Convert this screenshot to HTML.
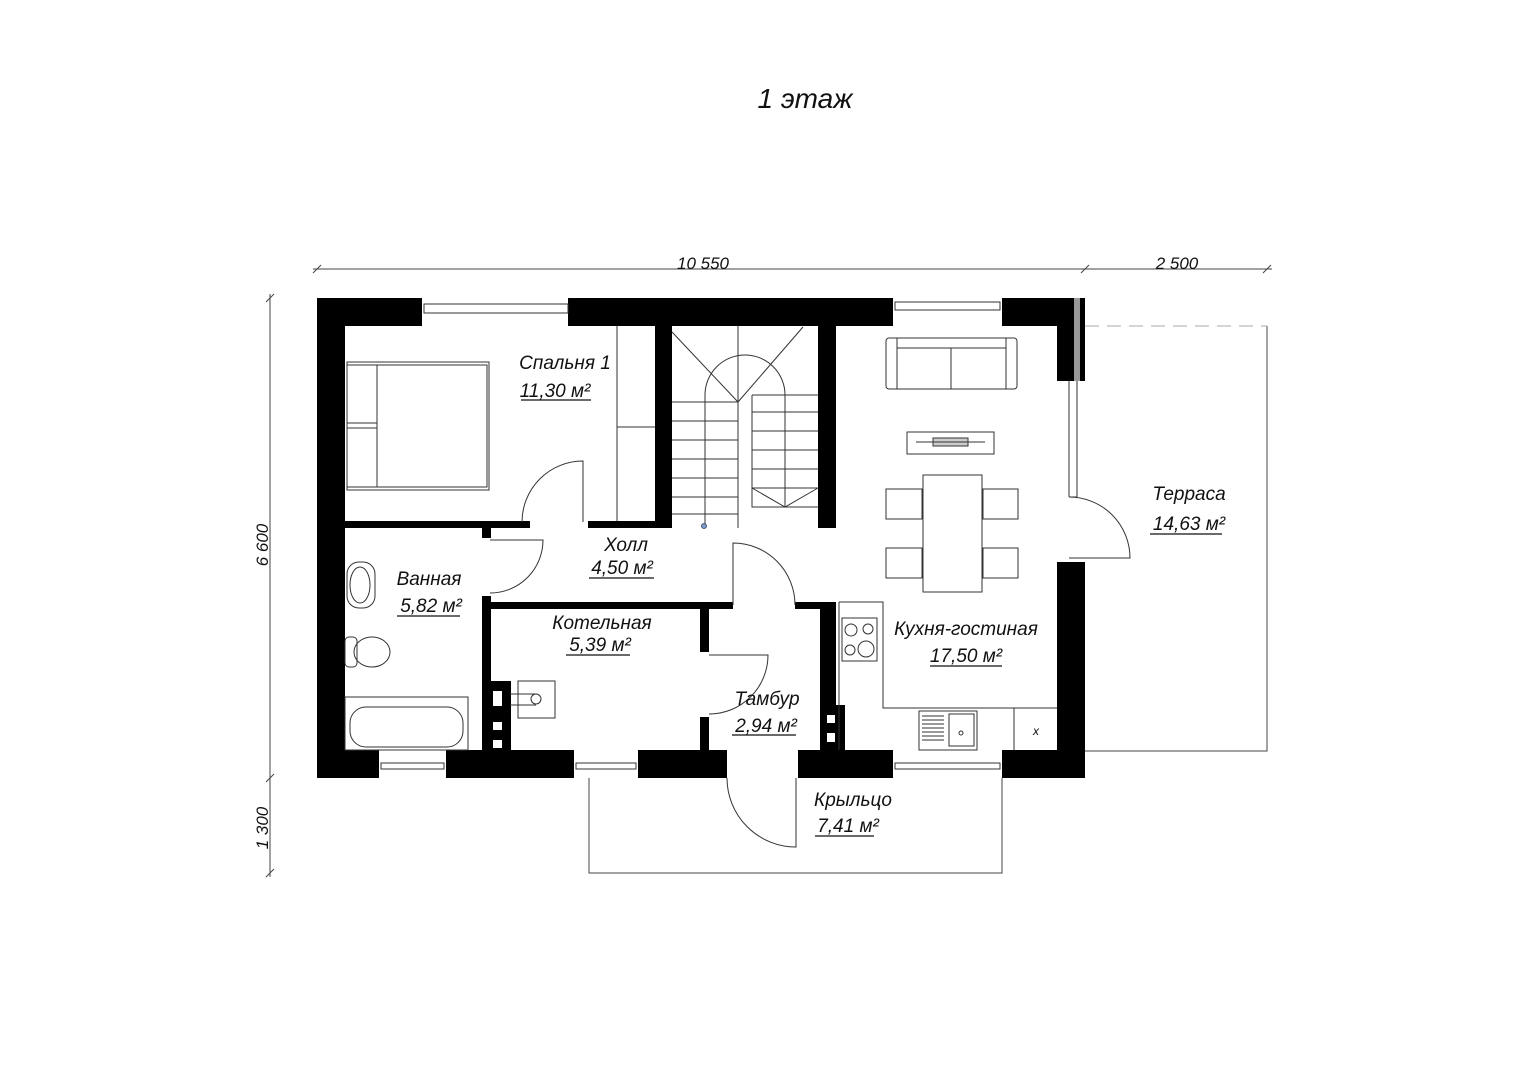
<!DOCTYPE html>
<html><head><meta charset="utf-8"><style>
html,body{margin:0;padding:0;background:#fff;}
svg{display:block;}
text{font-family:"Liberation Sans","DejaVu Sans",sans-serif;font-style:italic;fill:#111;}
</style></head><body>
<svg width="1528" height="1080" viewBox="0 0 1528 1080" xmlns="http://www.w3.org/2000/svg">
<g fill="none" stroke="#444" stroke-width="1">
<line x1="313" y1="269" x2="1272" y2="269"/>
<line x1="313" y1="273" x2="321" y2="265"/><line x1="1081" y1="273" x2="1089" y2="265"/><line x1="1263" y1="273" x2="1271" y2="265"/>
<line x1="270" y1="294" x2="270" y2="877"/>
<line x1="266" y1="302" x2="274" y2="294"/><line x1="266" y1="782" x2="274" y2="774"/><line x1="266" y1="877" x2="274" y2="869"/>
<polyline points="1085,751 1267,751 1267,326"/>
<line x1="1085" y1="326" x2="1267" y2="326" stroke="#aaa" stroke-dasharray="14,8"/>
<polyline points="589,778 589,873 1002,873 1002,778"/>
</g>
<g fill="#000">
<rect x="317" y="298" width="28" height="480"/>
<rect x="317" y="298" width="105" height="28"/>
<rect x="568" y="298" width="325" height="28"/>
<rect x="1002" y="298" width="83" height="28"/>
<rect x="1057" y="298" width="28" height="83"/>
<rect x="1057" y="562" width="28" height="216"/>
<rect x="317" y="750" width="62" height="28"/>
<rect x="446" y="750" width="128" height="28"/>
<rect x="638" y="750" width="89" height="28"/>
<rect x="798" y="750" width="95" height="28"/>
<rect x="1002" y="750" width="83" height="28"/>
<rect x="345" y="521" width="185" height="7"/>
<rect x="588" y="521" width="84" height="7"/>
<rect x="655" y="326" width="17" height="202"/>
<rect x="818" y="326" width="18" height="202"/>
<rect x="482" y="528" width="9" height="10"/>
<rect x="482" y="596" width="9" height="154"/>
<rect x="482" y="602" width="251" height="7"/>
<rect x="700" y="602" width="9" height="50"/>
<rect x="700" y="717" width="9" height="33"/>
<rect x="795" y="602" width="41" height="7"/>
<rect x="820" y="602" width="16" height="148"/>
<rect x="482" y="681" width="29" height="69"/>
<rect x="820" y="705" width="25" height="45"/>
</g>
<g fill="#fff">
<rect x="493" y="691" width="9" height="15"/><rect x="493" y="722" width="9" height="8"/><rect x="493" y="740" width="9" height="8"/>
<rect x="827" y="715" width="8" height="8"/><rect x="827" y="733" width="8" height="9"/>
</g>
<rect x="1074" y="298" width="6" height="83" fill="#999"/>
<g fill="none" stroke="#333" stroke-width="1">
<rect x="424" y="304" width="144" height="9"/><rect x="895" y="302" width="105" height="8"/>
<rect x="381" y="763" width="63" height="6"/><rect x="576" y="763" width="60" height="6"/><rect x="895" y="763" width="105" height="6"/>
<line x1="1069" y1="381" x2="1069" y2="497"/><line x1="1077" y1="381" x2="1077" y2="497"/><line x1="1069" y1="497" x2="1077" y2="497"/>
<path d="M583,522 V461 A61,61 0 0 0 522,522"/>
<path d="M490,540 H543 A53,53 0 0 1 490,593"/>
<path d="M733,605 V543 A62,62 0 0 1 795,605"/>
<path d="M709,655 H768 A59,59 0 0 1 709,714"/>
<path d="M796,778 V847 A69,69 0 0 1 727,778"/>
<path d="M1069,497 A61,61 0 0 1 1130,558 H1069"/>
<line x1="617" y1="326" x2="617" y2="521"/><line x1="617" y1="427" x2="655" y2="427"/>
<line x1="738" y1="326" x2="738" y2="528"/>
<line x1="672" y1="332" x2="738" y2="402"/><line x1="738" y1="402" x2="803" y2="327"/>
<path d="M705,526 V395 A40,40 0 0 1 785,395 V507"/>
<line x1="672" y1="402" x2="738" y2="402"/><line x1="672" y1="421" x2="738" y2="421"/><line x1="672" y1="440" x2="738" y2="440"/><line x1="672" y1="459" x2="738" y2="459"/><line x1="672" y1="478" x2="738" y2="478"/><line x1="672" y1="497" x2="738" y2="497"/><line x1="672" y1="514" x2="738" y2="514"/>
<line x1="752" y1="395" x2="818" y2="395"/><line x1="752" y1="412" x2="818" y2="412"/><line x1="752" y1="431" x2="818" y2="431"/><line x1="752" y1="450" x2="818" y2="450"/><line x1="752" y1="469" x2="818" y2="469"/><line x1="752" y1="488" x2="818" y2="488"/>
<polyline points="752,395 752,507 818,507"/>
<polyline points="752,488 785,507 818,488"/>
<rect x="347" y="362" width="142" height="128"/>
<rect x="377" y="365" width="110" height="122"/>
<rect x="347" y="365" width="30" height="58"/><rect x="347" y="428" width="30" height="59"/>
<rect x="347" y="562" width="28" height="46" rx="12"/><ellipse cx="360" cy="585" rx="10" ry="18"/>
<rect x="345" y="637" width="12" height="30" rx="4"/><ellipse cx="372" cy="652" rx="18" ry="15"/>
<rect x="345" y="697" width="123" height="53"/><rect x="350" y="707" width="113" height="40" rx="16"/>
<rect x="518" y="681" width="37" height="37"/><circle cx="536" cy="699" r="5"/>
<line x1="510" y1="694" x2="536" y2="694"/><line x1="510" y1="705" x2="536" y2="705"/>
<rect x="886" y="338" width="131" height="51" rx="3"/><line x1="897" y1="338" x2="897" y2="389"/><line x1="1006" y1="338" x2="1006" y2="389"/><line x1="897" y1="348" x2="1006" y2="348"/><line x1="951" y1="348" x2="951" y2="389"/>
<rect x="907" y="432" width="87" height="22"/><rect x="933" y="438" width="35" height="8" fill="#ccc"/><line x1="916" y1="442" x2="985" y2="442"/>
<rect x="923" y="475" width="59" height="117"/>
<rect x="886" y="489" width="36" height="30"/><rect x="886" y="548" width="36" height="30"/>
<rect x="983" y="489" width="35" height="30"/><rect x="983" y="548" width="35" height="30"/>
<polyline points="839,602 883,602 883,708 1057,708"/><line x1="839" y1="602" x2="839" y2="750"/>
<rect x="842" y="618" width="35" height="43"/>
<circle cx="851" cy="630" r="6"/><circle cx="868" cy="629" r="5"/><circle cx="850" cy="650" r="5"/><circle cx="866" cy="649" r="8"/>
<rect x="919" y="711" width="58" height="39"/><rect x="949" y="714" width="25" height="32"/><circle cx="961" cy="733" r="2"/>
<line x1="1014" y1="708" x2="1014" y2="750"/>
</g>
<g stroke="#333" stroke-width="1">
<line x1="922" y1="716" x2="944" y2="716"/><line x1="922" y1="720" x2="944" y2="720"/><line x1="922" y1="724" x2="944" y2="724"/><line x1="922" y1="728" x2="944" y2="728"/><line x1="922" y1="732" x2="944" y2="732"/><line x1="922" y1="736" x2="944" y2="736"/><line x1="922" y1="740" x2="944" y2="740"/>
</g>
<circle cx="704" cy="526" r="2.5" fill="#7aa0d0" stroke="#335" stroke-width="0.8"/>
<text x="805" y="108" font-size="28" text-anchor="middle">1 этаж</text>
<text x="703" y="269" font-size="17" text-anchor="middle">10 550</text>
<text x="1177" y="269" font-size="17" text-anchor="middle">2 500</text>
<text x="268" y="545" font-size="17" text-anchor="middle" transform="rotate(-90 268 545)">6 600</text>
<text x="268" y="828" font-size="17" text-anchor="middle" transform="rotate(-90 268 828)">1 300</text>
<g font-size="19" text-anchor="middle">
<text x="565" y="369">Спальня 1</text>
<text x="555" y="397">11,30 м²</text>
<text x="626" y="551">Холл</text>
<text x="622" y="574">4,50 м²</text>
<text x="429" y="585">Ванная</text>
<text x="431" y="612">5,82 м²</text>
<text x="602" y="629">Котельная</text>
<text x="600" y="651">5,39 м²</text>
<text x="767" y="705">Тамбур</text>
<text x="766" y="732">2,94 м²</text>
<text x="966" y="635">Кухня-гостиная</text>
<text x="966" y="662">17,50 м²</text>
<text x="1189" y="500">Терраса</text>
<text x="1189" y="530">14,63 м²</text>
<text x="853" y="806">Крыльцо</text>
<text x="848" y="832">7,41 м²</text>
<text x="1036" y="735" font-size="12" font-style="normal">x</text>
</g>
<g stroke="#111" stroke-width="1.2">
<line x1="521" y1="400" x2="591" y2="400"/>
<line x1="589" y1="578" x2="654" y2="578"/>
<line x1="397" y1="616" x2="460" y2="616"/>
<line x1="566" y1="655" x2="630" y2="655"/>
<line x1="732" y1="735" x2="796" y2="735"/>
<line x1="930" y1="666" x2="1002" y2="666"/>
<line x1="1150" y1="534" x2="1222" y2="534"/>
<line x1="815" y1="836" x2="874" y2="836"/>
</g>
</svg>
</body></html>
